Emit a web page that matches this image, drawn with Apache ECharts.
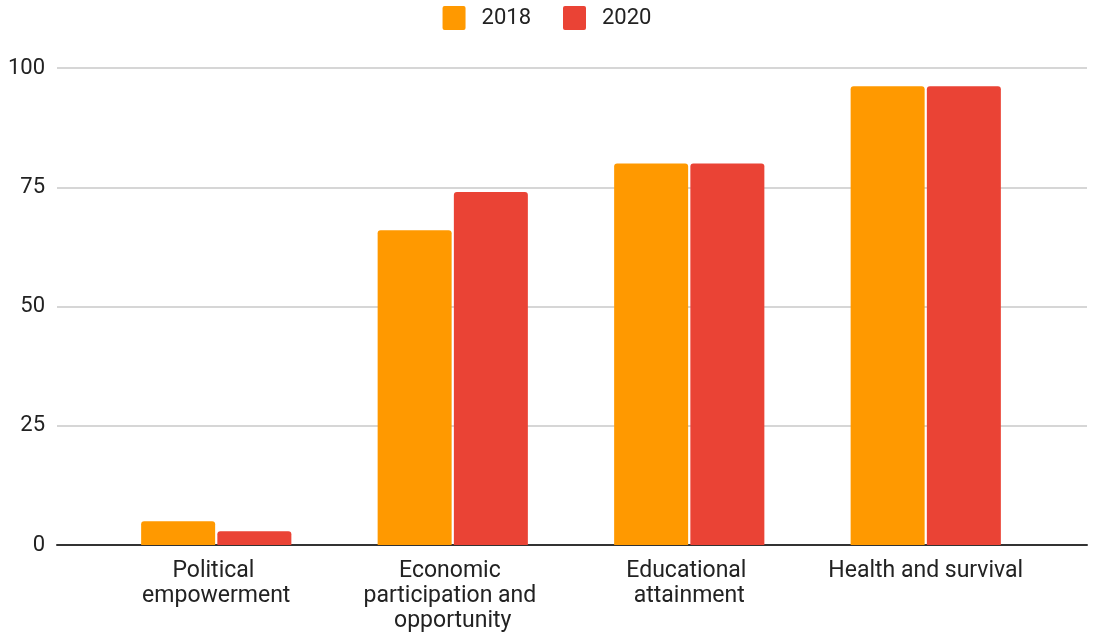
<!DOCTYPE html>
<html>
<head>
<meta charset="utf-8">
<title>Gender gap index by subindex, 2018 vs 2020</title>
<script src="https://cdn.jsdelivr.net/npm/echarts@6/dist/echarts.min.js"></script>
<style>
  html, body { margin: 0; padding: 0; background: #ffffff; }
  #chart { width: 1094px; height: 634px; }
</style>
</head>
<body>
<div id="chart"></div>
<script>
// Subindex scores (0-100)
const categories = [
  'Political empowerment',
  'Economic participation and opportunity',
  'Educational attainment',
  'Health and survival'
];
const values2018 = [5, 66, 80, 96.2];
const values2020 = [2.9, 74, 80, 96.2];
const seriesNames = ['2018', '2020'];
const yTicks = [0, 25, 50, 75, 100];

const FONT = 'Roboto, "Liberation Sans", Arial, sans-serif';
const TEXT = '#222222';
// small square with slightly rounded corners for the legend keys
const KEY_ICON = 'path://M2,0 H21 Q23,0 23,2 V22 Q23,24 21,24 H2 Q0,24 0,22 V2 Q0,0 2,0 Z';

const chart = echarts.init(document.getElementById('chart'), null, { renderer: 'canvas' });

chart.setOption({
  animation: false,
  backgroundColor: '#ffffff',
  textStyle: { fontFamily: FONT },
  legend: {
    top: 1,
    left: 'center',
    icon: KEY_ICON,
    itemWidth: 23,
    itemHeight: 24,
    itemGap: 32,
    data: seriesNames,
    textStyle: { fontFamily: FONT, fontSize: 22, color: TEXT, padding: [0, 0, 0, 11] }
  },
  grid: [
    // value scale, gridlines and baseline
    { left: 57, right: 7, top: 68, bottom: 89 },
    // category bands for the bars
    { left: 98, right: 50, top: 68, bottom: 89 }
  ],
  xAxis: [
    {
      gridIndex: 0, type: 'value', min: 0, max: 1,
      axisLine: { show: true, lineStyle: { color: '#333333', width: 2 } },
      axisTick: { show: false }, axisLabel: { show: false }, splitLine: { show: false }
    },
    {
      gridIndex: 1, type: 'category', data: categories,
      axisLine: { show: false }, axisTick: { show: false },
      axisLabel: {
        interval: 0,
        margin: 14,
        fontFamily: FONT, fontSize: 23, color: TEXT, lineHeight: 25,
        width: 215, overflow: 'break', align: 'center'
      }
    }
  ],
  yAxis: [
    {
      gridIndex: 0, type: 'value',
      min: yTicks[0], max: yTicks[yTicks.length - 1], interval: yTicks[1] - yTicks[0],
      axisLine: { show: false }, axisTick: { show: false },
      axisLabel: { margin: 12, fontFamily: FONT, fontSize: 22, color: TEXT },
      splitLine: { show: true, lineStyle: { color: '#d6d6d6', width: 2 } }
    },
    {
      gridIndex: 1, type: 'value',
      min: yTicks[0], max: yTicks[yTicks.length - 1], show: false
    }
  ],
  series: [
    {
      name: seriesNames[0], type: 'bar', xAxisIndex: 1, yAxisIndex: 1,
      data: values2018, barWidth: 74, barGap: '3%',
      itemStyle: { color: '#FF9900', borderRadius: [3, 3, 0, 0] }
    },
    {
      name: seriesNames[1], type: 'bar', xAxisIndex: 1, yAxisIndex: 1,
      data: values2020, barWidth: 74, barGap: '3%',
      itemStyle: { color: '#EA4335', borderRadius: [3, 3, 0, 0] }
    }
  ]
});
</script>
</body>
</html>
